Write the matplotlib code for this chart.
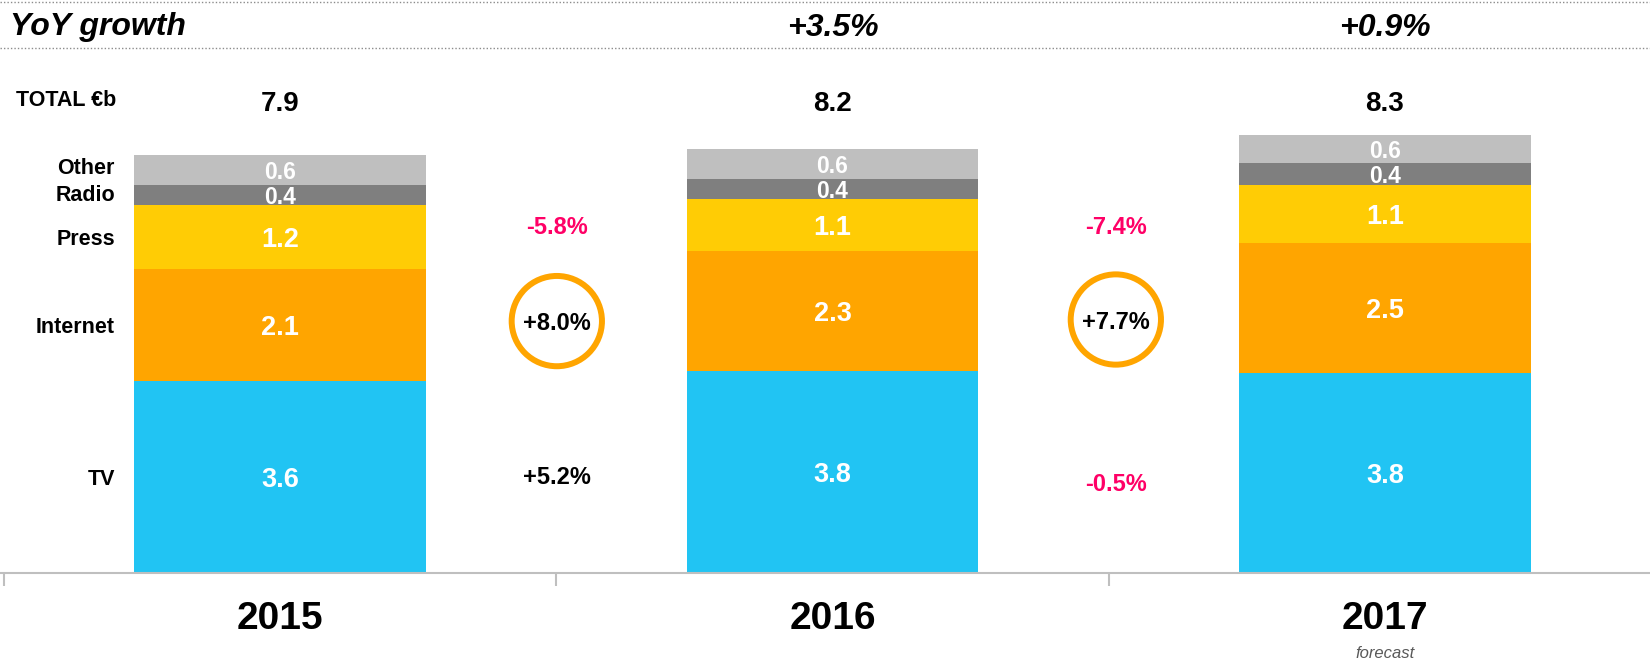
import matplotlib
matplotlib.use("Agg")
import matplotlib.pyplot as plt
import matplotlib.transforms as mtransforms
from matplotlib.lines import Line2D

plt.rcParams["font.family"] = ["Liberation Sans", "DejaVu Sans"]

# ---- data (EUR bn) ----
years = ["2015", "2016", "2017"]
segments = ["TV", "Internet", "Press", "Radio", "Other"]
tv       = [3.64, 3.83, 3.79]
internet = [2.12, 2.27, 2.46]
press    = [1.21, 0.98, 1.10]
radio    = [0.38, 0.38, 0.42]
other    = [0.57, 0.57, 0.53]

# labels as printed on the chart
tv_lbl       = ["3.6", "3.8", "3.8"]
internet_lbl = ["2.1", "2.3", "2.5"]
press_lbl    = ["1.2", "1.1", "1.1"]
radio_lbl    = ["0.4", "0.4", "0.4"]
other_lbl    = ["0.6", "0.6", "0.6"]
totals_lbl   = ["7.9", "8.2", "8.3"]
yoy_lbl      = ["", "+3.5%", "+0.9%"]

# growth between years (2015->16, 2016->17)
press_growth    = ["-5.8%", "-7.4%"]
internet_growth = ["+8.0%", "+7.7%"]
tv_growth       = ["+5.2%", "-0.5%"]

colors = {"TV": "#21C4F3", "Internet": "#FFA500", "Press": "#FFCC05",
          "Radio": "#7F7F7F", "Other": "#BFBFBF"}
RED = "#FF0066"
GRID = "#BFBFBF"
VA = "center_baseline"

W, H = 1650, 659
fig = plt.figure(figsize=(W / 100, H / 100), dpi=100)
ax = fig.add_axes([0, 86 / H, 1, 573 / H])
ax.set_xlim(-0.507, 2.48)
ax.set_ylim(0, 10.85)

series = [tv, internet, press, radio, other]
labels = [tv_lbl, internet_lbl, press_lbl, radio_lbl, other_lbl]
x = list(range(len(years)))
bw = 0.528
bottom = [0.0] * len(years)
mids = {}
for name, vals, lbls in zip(segments, series, labels):
    ax.bar(x, vals, bottom=bottom, width=bw, color=colors[name], lw=0)
    mids[name] = [b + v / 2 for b, v in zip(bottom, vals)]
    fs = 16.5 if name in ("Radio", "Other") else 19.5
    for xi, m, t in zip(x, mids[name], lbls):
        ax.text(xi, m, t, ha="center", va=VA, color="white",
                fontsize=fs, fontweight="bold")
    bottom = [b + v for b, v in zip(bottom, vals)]

# segment names on the left of the first bar
name_dy = {"Other": 3, "Radio": 1}
for name in segments:
    ax.annotate(name, xy=(-bw / 2, mids[name][0]), xytext=(-14, name_dy.get(name, 0)),
                textcoords="offset points", ha="right", va=VA,
                fontsize=15.5, fontweight="bold", color="black")

# growth between bars
gx = [0.501, 1.513]
rows = [(press_growth, [6.59, 6.59]), (internet_growth, [4.77, 4.80]),
        (tv_growth, [1.86, 1.72])]
for texts, ys in rows:
    for xx, yy, t in zip(gx, ys, texts):
        c = RED if t.startswith("-") else "black"
        ax.text(xx, yy, t, ha="center", va=VA, color=c,
                fontsize=17, fontweight="bold")
ax.scatter(gx, rows[1][1], s=65 ** 2, facecolors="none", edgecolors="#FFA500",
           linewidths=4.3, zorder=3)

# axis styling
for s in ("left", "top", "right"):
    ax.spines[s].set_visible(False)
ax.spines["bottom"].set_color(GRID)
ax.spines["bottom"].set_linewidth(1.5)
ax.set_yticks([])
ax.set_xticks(x)
ax.set_xticklabels(years, fontsize=28, fontweight="bold")
ax.tick_params(axis="x", which="major", length=0, pad=20)
ax.set_xticks([-0.5, 0.5, 1.5], minor=True)
ax.tick_params(axis="x", which="minor", length=9, width=1.5, color=GRID)

bt = mtransforms.blended_transform_factory(ax.transData, fig.transFigure)
ax.text(2, 1 - 652 / H, "forecast", transform=bt, ha="center", va=VA,
        fontsize=12, style="italic", color="#595959")

# header rows
for yy in (2, 48):
    fig.add_artist(Line2D([0, 1], [1 - yy / H, 1 - yy / H], transform=fig.transFigure,
                          color="#8C8C8C", lw=1.0, ls=(0, (1, 1.5))))
fig.text(10 / W, 1 - 24 / H, "YoY growth", ha="left", va=VA,
         fontsize=23, fontweight="bold", style="italic")
for xi, t in zip(x, yoy_lbl):
    ax.text(xi, 1 - 24 / H, t, transform=bt, ha="center", va=VA,
            fontsize=23, fontweight="bold", style="italic")
fig.text(16 / W, 1 - 98 / H, "TOTAL €b", ha="left", va=VA,
         fontsize=15.5, fontweight="bold")
for xi, t in zip(x, totals_lbl):
    ax.text(xi, 1 - 101 / H, t, transform=bt, ha="center", va=VA,
            fontsize=20, fontweight="bold")

fig.savefig("out.png", dpi=100)
